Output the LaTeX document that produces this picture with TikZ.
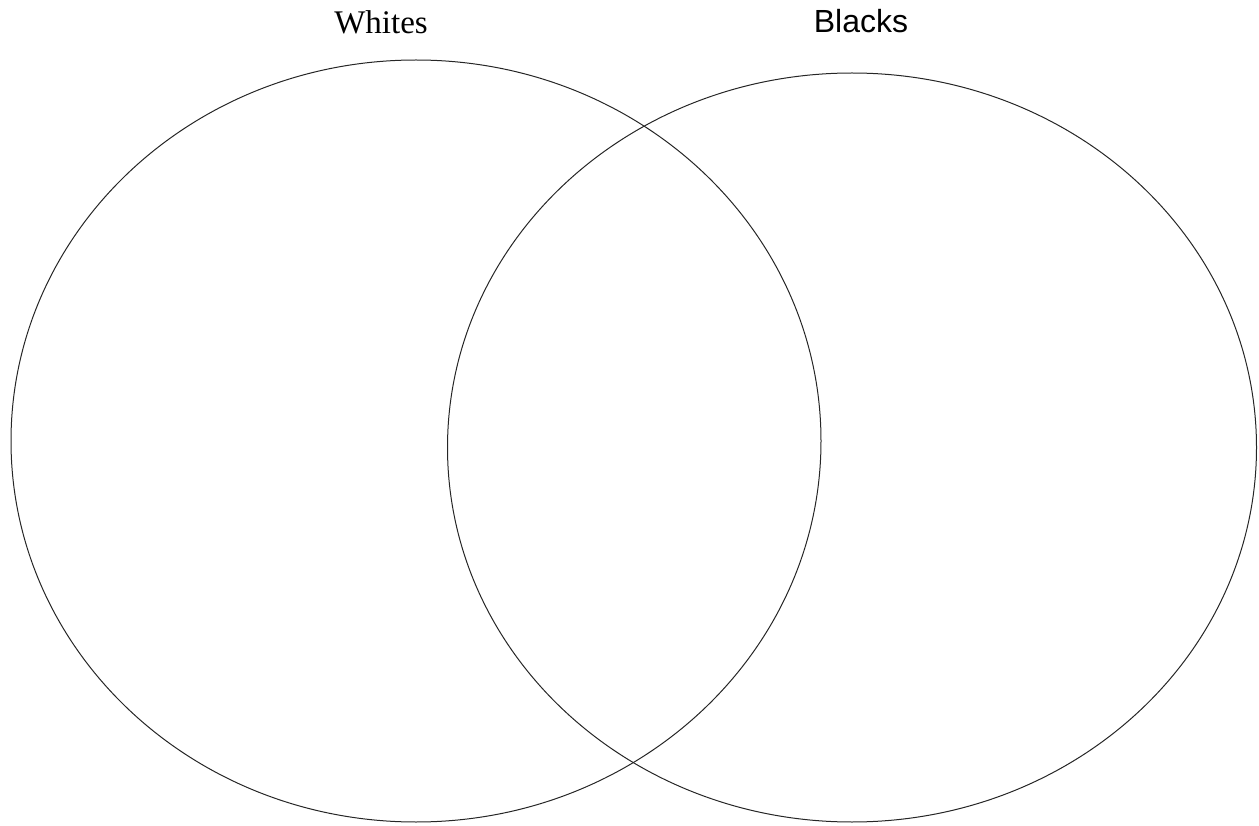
\documentclass[tikz,border=0pt]{standalone}
\usepackage{fontspec}
\setmainfont{Liberation Serif}
\newfontfamily\labelsans{Liberation Sans}
\usepackage{tikz}
\usetikzlibrary{positioning}
\tikzset{
  set line/.style={draw=black!85, line width=1pt},
  set label/.style={anchor=base, inner sep=0pt, font=\fontsize{33}{36}\selectfont},
}

\begin{document}
\begin{tikzpicture}[x=1pt, y=-1pt]
	\useasboundingbox (0,0) rectangle (1259,826);
	\draw[set line] (416,441) ellipse (405 and 381);
	\draw[set line] (852,447.5) ellipse (404.5 and 374.5);
	\node[set label] (whites) at (381,34) {Whites};
	\node[set label, font=\labelsans\fontsize{32}{36}\selectfont] (blacks) at (861,33) {Blacks};
\end{tikzpicture}
\end{document}
